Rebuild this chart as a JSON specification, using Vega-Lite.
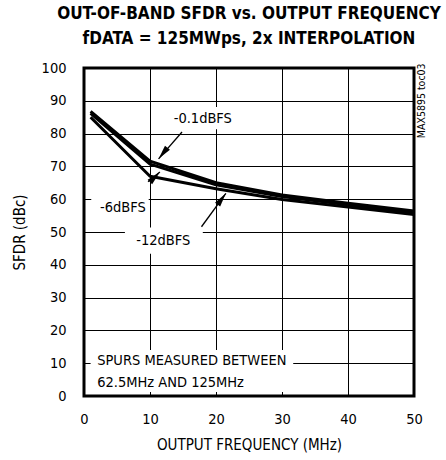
{
  "$schema": "https://vega.github.io/schema/vega-lite/v6.json",
  "width": 330,
  "height": 328,
  "autosize": {"type": "none"},
  "padding": {"left": 84, "top": 68, "right": 32, "bottom": 64},
  "background": "white",
  "config": {
    "font": "DejaVu Sans Condensed",
    "view": {"stroke": "black", "strokeWidth": 3},
    "axis": {
      "labelFont": "DejaVu Sans Condensed",
      "titleFont": "DejaVu Sans Condensed",
      "labelFontSize": 14.5,
      "titleFontSize": 15,
      "labelColor": "black",
      "titleColor": "black",
      "titleFontWeight": "normal",
      "grid": true,
      "gridColor": "black",
      "gridOpacity": 1,
      "gridWidth": 1,
      "ticks": false,
      "domain": false,
      "labelOverlap": false
    }
  },
  "title": {
    "text": ["OUT-OF-BAND SFDR vs. OUTPUT FREQUENCY", "fDATA = 125MWps, 2x INTERPOLATION"],
    "font": "DejaVu Sans Condensed",
    "fontSize": 17,
    "fontWeight": "bold",
    "color": "black",
    "anchor": "middle",
    "offset": 12,
    "lineHeight": 25
  },
  "encoding": {
    "x": {"type": "quantitative", "scale": {"domain": [0, 50]}, "axis": {"values": [0, 10, 20, 30, 40, 50], "title": "OUTPUT FREQUENCY (MHz)", "labelPadding": 16, "titlePadding": 12, "labelFlush": false}},
    "y": {"type": "quantitative", "scale": {"domain": [0, 100]}, "axis": {"values": [0, 10, 20, 30, 40, 50, 60, 70, 80, 90, 100], "title": "SFDR (dBc)", "labelPadding": 18, "titlePadding": 14}}
  },
  "datasets": {
    "curves": [
      {"series": "-0.1dBFS", "freq": 1, "sfdr": 86.8},
      {"series": "-0.1dBFS", "freq": 10, "sfdr": 71.6},
      {"series": "-0.1dBFS", "freq": 20, "sfdr": 65.0},
      {"series": "-0.1dBFS", "freq": 30, "sfdr": 61.3},
      {"series": "-0.1dBFS", "freq": 40, "sfdr": 58.8},
      {"series": "-0.1dBFS", "freq": 50, "sfdr": 56.4},
      {"series": "-6dBFS", "freq": 1, "sfdr": 86.2},
      {"series": "-6dBFS", "freq": 10, "sfdr": 70.7},
      {"series": "-6dBFS", "freq": 20, "sfdr": 64.4},
      {"series": "-6dBFS", "freq": 30, "sfdr": 60.8},
      {"series": "-6dBFS", "freq": 40, "sfdr": 58.3},
      {"series": "-6dBFS", "freq": 50, "sfdr": 55.8},
      {"series": "-12dBFS", "freq": 1, "sfdr": 85.0},
      {"series": "-12dBFS", "freq": 10, "sfdr": 67.0},
      {"series": "-12dBFS", "freq": 20, "sfdr": 63.2},
      {"series": "-12dBFS", "freq": 30, "sfdr": 59.9},
      {"series": "-12dBFS", "freq": 40, "sfdr": 57.6},
      {"series": "-12dBFS", "freq": 50, "sfdr": 55.3}
    ],
    "labels": [
      {"label": "-0.1dBFS", "tx": 18.0, "ty": 84.4, "bx1": 13.8, "bx2": 22.4, "by1": 81.3, "by2": 88.1, "sx": 14.85, "sy": 80.5, "hx": 11.3, "hy": 72.3},
      {"label": "-6dBFS", "tx": 5.9, "ty": 57.2, "bx1": 1.1, "bx2": 9.8, "by1": 53.4, "by2": 61.3, "sx": 9.7, "sy": 65.3, "hx": 11.5, "hy": 68.3},
      {"label": "-12dBFS", "tx": 12.0, "ty": 47.3, "bx1": 6.2, "bx2": 18.0, "by1": 43.4, "by2": 51.4, "sx": 17.8, "sy": 51.6, "hx": 21.5, "hy": 61.8}
    ],
    "notes": [
      {"line": "SPURS MEASURED BETWEEN", "nx": 2.0, "ny": 10.8},
      {"line": "62.5MHz AND 125MHz", "nx": 2.0, "ny": 4.0}
    ],
    "notebox": [
      {"bx1": 1.0, "bx2": 31.7, "by1": 1.2, "by2": 14.0}
    ],
    "code": [
      {"text": "MAX5895 toc03", "cx": 51.2, "cy": 90.0}
    ]
  },
  "layer": [
    {
      "data": {"name": "notebox"},
      "mark": {"type": "rect", "color": "white"},
      "encoding": {
        "x": {"field": "bx1"},
        "x2": {"field": "bx2"},
        "y": {"field": "by1"},
        "y2": {"field": "by2"}
      }
    },
    {
      "data": {"name": "notes"},
      "mark": {"type": "text", "align": "left", "baseline": "middle", "fontSize": 14.5, "color": "black"},
      "encoding": {
        "x": {"field": "nx"},
        "y": {"field": "ny"},
        "text": {"field": "line"}
      }
    },
    {
      "data": {"name": "curves"},
      "mark": {"type": "line", "color": "black", "strokeWidth": 3, "strokeJoin": "round"},
      "encoding": {
        "x": {"field": "freq"},
        "y": {"field": "sfdr"},
        "detail": {"field": "series"}
      }
    },
    {
      "data": {"name": "labels"},
      "mark": {"type": "rect", "color": "white"},
      "encoding": {
        "x": {"field": "bx1"},
        "x2": {"field": "bx2"},
        "y": {"field": "by1"},
        "y2": {"field": "by2"}
      }
    },
    {
      "data": {"name": "labels"},
      "mark": {"type": "text", "align": "center", "baseline": "middle", "fontSize": 14.5, "color": "black"},
      "encoding": {
        "x": {"field": "tx"},
        "y": {"field": "ty"},
        "text": {"field": "label"}
      }
    },
    {
      "data": {"name": "labels"},
      "mark": {"type": "rule", "color": "black", "strokeWidth": 1.3},
      "encoding": {
        "x": {"field": "sx"},
        "x2": {"field": "hx"},
        "y": {"field": "sy"},
        "y2": {"field": "hy"}
      }
    },
    {
      "data": {"name": "labels"},
      "transform": [{"filter": "datum.label === '-0.1dBFS'"}],
      "mark": {"type": "point", "shape": "M0,0L0.45,2L-0.45,2Z", "filled": true, "color": "black", "opacity": 1, "size": 200, "angle": 219},
      "encoding": {
        "x": {"field": "hx"},
        "y": {"field": "hy"}
      }
    },
    {
      "data": {"name": "labels"},
      "transform": [{"filter": "datum.label === '-6dBFS'"}],
      "mark": {"type": "point", "shape": "M0,0L0.45,2L-0.45,2Z", "filled": true, "color": "black", "opacity": 1, "size": 200, "angle": 45},
      "encoding": {
        "x": {"field": "hx"},
        "y": {"field": "hy"}
      }
    },
    {
      "data": {"name": "labels"},
      "transform": [{"filter": "datum.label === '-12dBFS'"}],
      "mark": {"type": "point", "shape": "M0,0L0.45,2L-0.45,2Z", "filled": true, "color": "black", "opacity": 1, "size": 200, "angle": 36},
      "encoding": {
        "x": {"field": "hx"},
        "y": {"field": "hy"}
      }
    },
    {
      "data": {"name": "code"},
      "mark": {"type": "text", "angle": 270, "align": "center", "baseline": "middle", "fontSize": 10.5, "color": "black", "clip": false},
      "encoding": {
        "x": {"field": "cx"},
        "y": {"field": "cy"},
        "text": {"field": "text"}
      }
    }
  ]
}
